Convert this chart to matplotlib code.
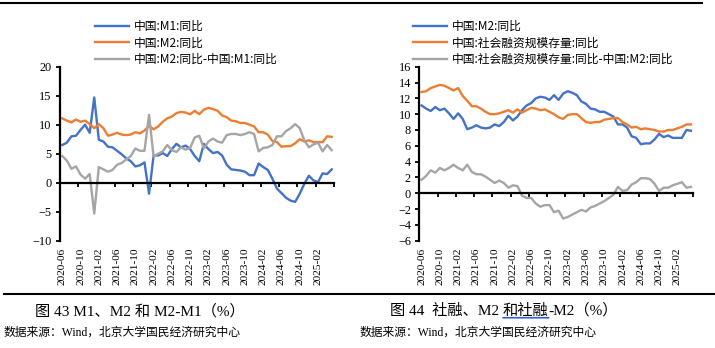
import matplotlib
matplotlib.use("Agg")
import numpy as np
import matplotlib.pyplot as plt
import matplotlib.transforms as mtransforms

plt.rcParams['font.family'] = ['Liberation Serif', 'Noto Sans CJK SC']

# 月度数据 2020-06 ~ 2025-05
tick_labels = ["2020-06", "2020-10", "2021-02", "2021-06", "2021-10",
               "2022-02", "2022-06", "2022-10", "2023-02", "2023-06",
               "2023-10", "2024-02", "2024-06", "2024-10", "2025-02"]

m1 = [6.5, 6.9, 8.0, 8.1, 9.1, 10.0, 8.6,
      14.7, 7.4, 7.1, 6.2, 6.1, 5.5, 4.9, 4.2, 3.7, 2.8, 3.0, 3.5,
      -1.9, 4.7, 4.7, 5.1, 4.6, 5.8, 6.7, 6.1, 6.4, 5.8, 4.6, 3.7,
      6.7, 5.8, 5.1, 5.3, 4.7, 3.1, 2.3, 2.2, 2.1, 1.9, 1.3, 1.3,
      3.3, 2.7, 2.2, 0.7, -1.0, -1.8, -2.6, -3.1, -3.3, -1.9, -0.2, 1.2,
      0.4, 0.1, 1.6, 1.5, 2.3]

m2 = [11.1, 10.7, 10.4, 10.9, 10.5, 10.7, 10.1,
      9.4, 10.1, 9.4, 8.1, 8.3, 8.6, 8.3, 8.2, 8.3, 8.7, 8.5, 9.0,
      9.8, 9.2, 9.7, 10.5, 11.1, 11.4, 12.0, 12.2, 12.1, 11.8, 12.4, 11.8,
      12.6, 12.9, 12.7, 12.4, 11.6, 11.3, 10.7, 10.6, 10.3, 10.3, 10.0, 9.7,
      8.7, 8.7, 8.3, 7.2, 7.0, 6.2, 6.3, 6.3, 6.8, 7.5, 7.1, 7.3,
      7.0, 7.0, 7.0, 8.0, 7.9]

m2_m1 = [4.6, 3.8, 2.4, 2.8, 1.4, 0.7, 1.5,
         -5.3, 2.7, 2.3, 1.9, 2.2, 3.1, 3.4, 4.0, 4.6, 5.9, 5.5, 5.5,
         11.7, 4.5, 5.0, 5.4, 6.5, 5.6, 5.3, 6.1, 5.7, 6.0, 7.8, 8.1,
         5.9, 7.1, 7.6, 7.1, 6.9, 8.2, 8.4, 8.4, 8.2, 8.4, 8.7, 8.4,
         5.4, 6.0, 6.1, 6.5, 8.0, 8.0, 8.9, 9.4, 10.1, 9.4, 7.3, 6.1,
         6.6, 6.9, 5.4, 6.5, 5.6]

tsf = [12.8, 12.9, 13.3, 13.5, 13.7, 13.6, 13.3,
       13.0, 13.3, 12.3, 11.7, 11.0, 11.0, 10.7, 10.3, 10.0, 10.0, 10.1, 10.3,
       10.5, 10.2, 10.6, 10.2, 10.5, 10.8, 10.7, 10.5, 10.6, 10.3, 10.0, 9.6,
       9.4, 9.9, 10.0, 10.0, 9.5, 9.0, 8.9, 9.0, 9.0, 9.3, 9.4, 9.5,
       9.5, 9.0, 8.7, 8.3, 8.4, 8.1, 8.2, 8.1, 8.0, 7.8, 7.8, 8.0,
       8.0, 8.2, 8.4, 8.7, 8.7]

tsf_m2 = [1.7, 2.2, 2.9, 2.6, 3.2, 2.9, 3.2,
          3.6, 3.2, 2.9, 3.6, 2.7, 2.4, 2.4, 2.1, 1.7, 1.3, 1.6, 1.3,
          0.7, 1.0, 0.9, -0.3, -0.6, -0.6, -1.3, -1.7, -1.5, -1.5, -2.4, -2.2,
          -3.2, -3.0, -2.7, -2.4, -2.1, -2.3, -1.8, -1.6, -1.3, -1.0, -0.6, -0.2,
          0.8, 0.3, 0.4, 1.1, 1.4, 1.9, 1.9, 1.8, 1.2, 0.3, 0.7, 0.7,
          1.0, 1.2, 1.4, 0.7, 0.8]

left_labels = ["中国:M1:同比", "中国:M2:同比", "中国:M2:同比-中国:M1:同比"]
right_labels = ["中国:M2:同比", "中国:社会融资规模存量:同比",
                "中国:社会融资规模存量:同比-中国:M2:同比"]

BLUE, ORANGE, GRAY = "#4472C4", "#ED7D31", "#A5A5A5"
W, H = 715, 348

fig = plt.figure(figsize=(W / 100, H / 100), dpi=100)
# 整页覆盖层，放标题、来源和分隔线
page = fig.add_axes([0, 0, 1, 1])
page.set_axis_off()
page.set_xlim(0, W)
page.set_ylim(H, 0)


def panel(left_px, series, labels, ylim, ystep, legend_x):
    ax = fig.add_axes([left_px / W, 1 - 240.7 / H, 274 / W, 174 / H])
    n = len(series[0])
    x = np.arange(n) + 0.5
    for vals, c, lab in zip(series, [BLUE, ORANGE, GRAY], labels):
        ax.plot(x, vals, color=c, lw=1.7, label=lab)
    ax.set_xlim(0, n)
    ax.set_ylim(*ylim)
    ax.set_yticks(np.arange(ylim[0], ylim[1] + 0.1, ystep))
    ax.set_xticks(np.arange(0, n + 1, 4))
    for s in ["top", "right"]:
        ax.spines[s].set_visible(False)
    ax.spines["bottom"].set_position(("data", 0))
    ax.spines["left"].set_linewidth(1.6)
    ax.spines["bottom"].set_linewidth(1.6)
    ax.tick_params(axis="x", direction="out", length=3, width=1.3,
                   labelbottom=False)
    ax.tick_params(axis="y", direction="out", length=3, width=1.3,
                   labelsize=8.8, pad=3)
    trans = mtransforms.blended_transform_factory(ax.transData, ax.transAxes)
    for i, lab in enumerate(tick_labels):
        ax.text(i * 4 + 0.5, -0.04, lab, transform=trans, rotation=90,
                ha="center", va="top", fontsize=8.2)
    ax.legend(loc="upper left", bbox_to_anchor=(legend_x / W, 1 - 20 / H),
              bbox_transform=fig.transFigure, frameon=False,
              prop={"family": ["Noto Sans CJK SC"], "size": 8.5},
              handlelength=2.9, handletextpad=0.4, labelspacing=0.3,
              borderpad=0, borderaxespad=0)
    return ax


panel(60, [m1, m2, m2_m1], left_labels, (-10, 20), 5, 95)
panel(419.3, [m2, tsf, tsf_m2], right_labels, (-6, 16), 2, 413)

# 上下分隔线
page.plot([0, 702], [3, 3], color="black", lw=1.5)
page.plot([4, W], [294, 294], color="black", lw=1.5)

cap_font = ["Liberation Serif", "Noto Sans CJK SC"]
page.text(35, 311, "图 43 M1、M2 和 M2-M1（%）", fontsize=11,
          family=cap_font, va="center")
t1 = page.text(390, 311, "图 44  社融、M2 ", fontsize=11,
               family=cap_font, va="center")
t2 = page.annotate("和社融", xy=(1, 0), xycoords=t1, va="bottom", fontsize=11,
                   family=cap_font)
page.annotate("-M2（%）", xy=(1, 0), xycoords=t2, va="bottom", fontsize=11,
              family=cap_font)
# "和社融" 下的蓝色下划线
page.annotate("", xy=(0, 0.02), xycoords=t2, xytext=(1, 0.02), textcoords=t2,
              arrowprops=dict(arrowstyle="-", color="#2F5FD0", lw=1.2,
                              shrinkA=0, shrinkB=0))
page.text(4, 333, "数据来源：Wind，北京大学国民经济研究中心",
          fontsize=8.5, family=cap_font, va="center")
page.text(360, 333, "数据来源：Wind，北京大学国民经济研究中心",
          fontsize=8.5, family=cap_font, va="center")

fig.savefig("out.png", dpi=100, facecolor="white")
